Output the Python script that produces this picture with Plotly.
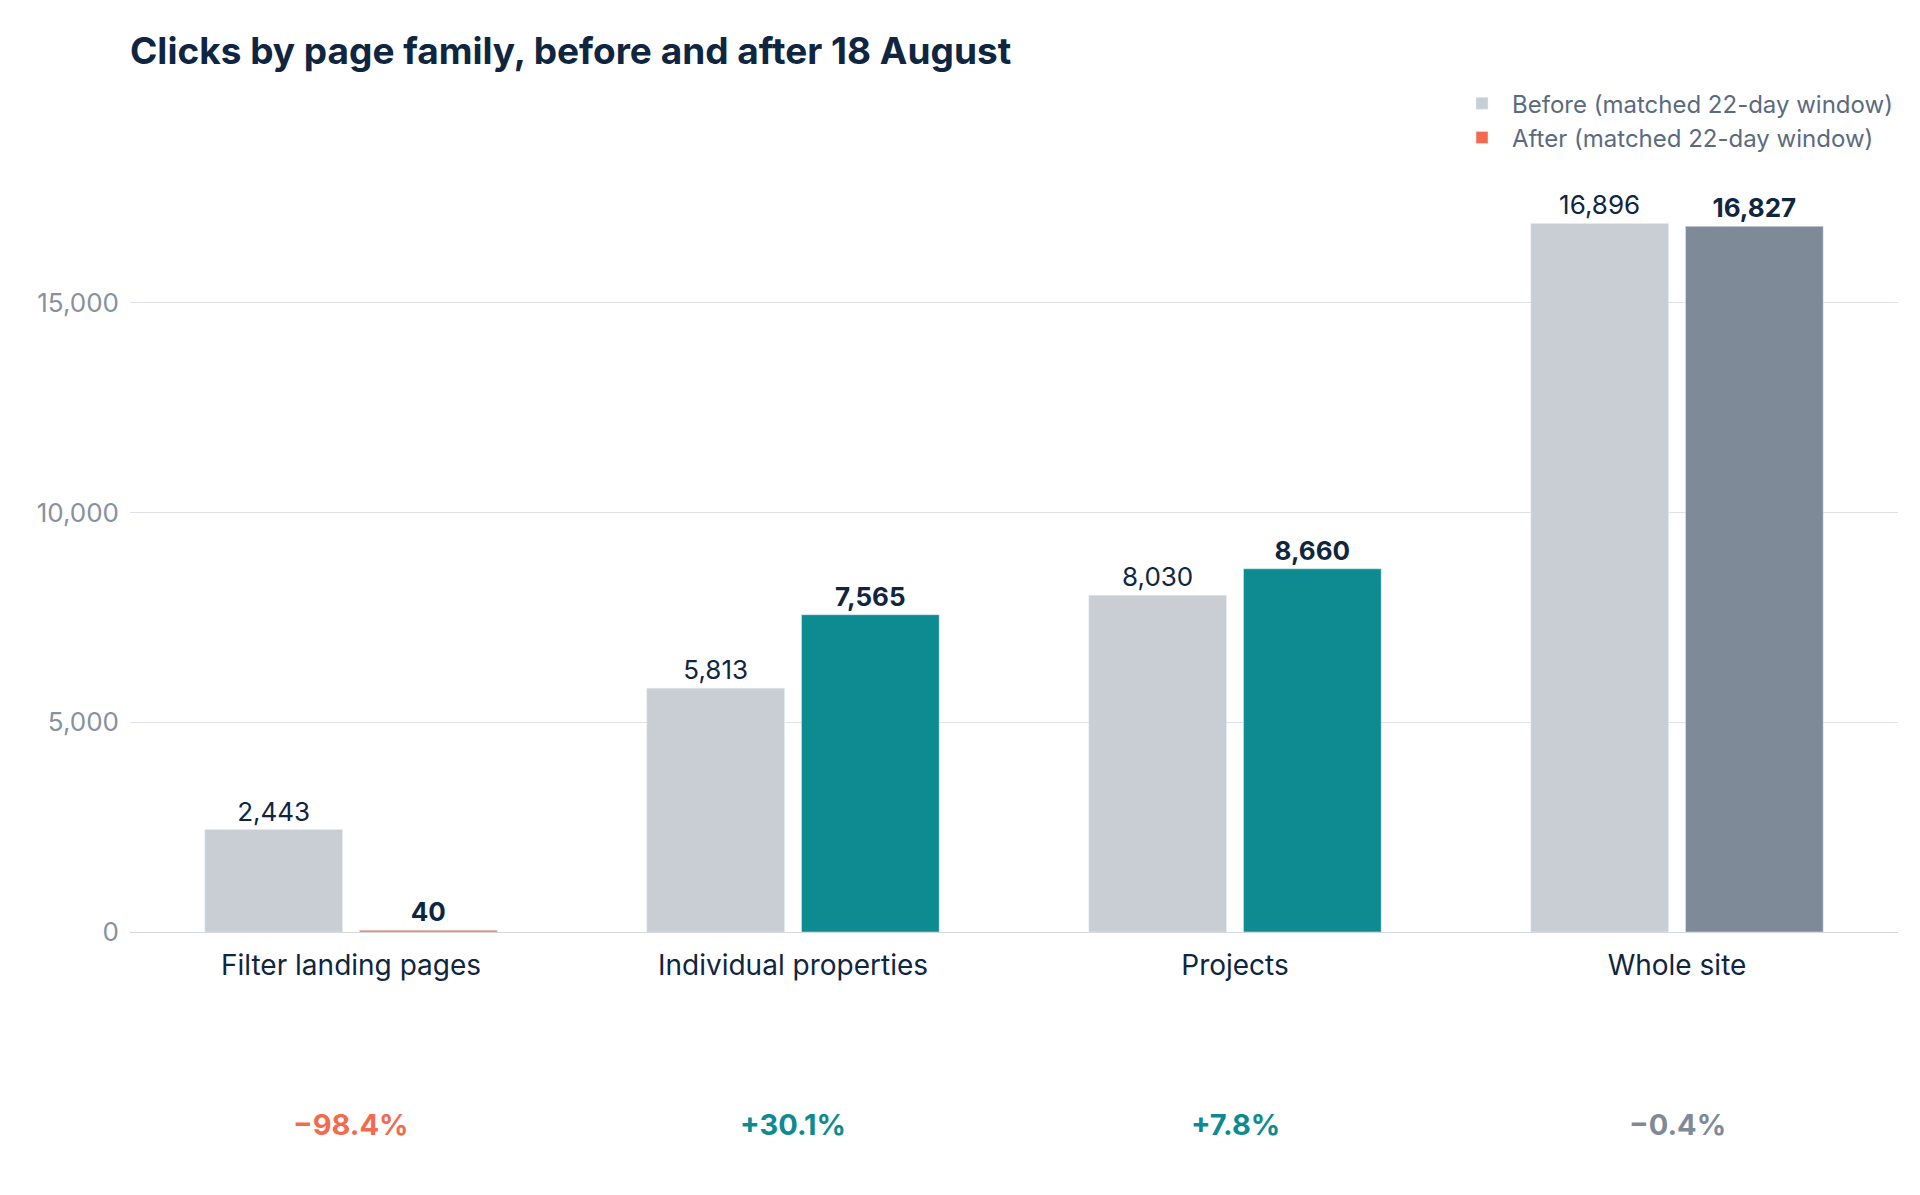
import plotly.graph_objects as go

categories = ['Filter landing pages', 'Individual properties', 'Projects', 'Whole site']
before = [2443, 5813, 8030, 16896]
after = [40, 7565, 8660, 16827]
changes = ['\u221298.4%', '+30.1%', '+7.8%', '\u22120.4%']

GREY_LIGHT = '#c9ced5'
ORANGE = '#f26b4f'
TEAL = '#0e8a91'
SLATE = '#7f8a99'
INK = '#0f2540'
after_colors = [ORANGE, TEAL, TEAL, SLATE]
change_colors = [ORANGE, TEAL, TEAL, SLATE]

fig = go.Figure()
fig.add_trace(go.Bar(
    x=categories, y=before, name='Before (matched 22-day window)',
    marker_color=GREY_LIGHT, text=[f'{v:,}' for v in before],
    textposition='outside', cliponaxis=False,
    textfont=dict(size=26, color=INK)))
fig.add_trace(go.Bar(
    x=categories, y=after, name='After (matched 22-day window)',
    marker_color=after_colors, text=[f'<b>{v:,}</b>' for v in after],
    textposition='outside', cliponaxis=False,
    textfont=dict(size=26, color=INK)))

for cat, txt, col in zip(categories, changes, change_colors):
    fig.add_annotation(x=cat, y=-0.258, xref='x', yref='paper', text=f'<b>{txt}</b>',
                       showarrow=False, font=dict(size=29, color=col))

fig.update_layout(
    width=1920, height=1195,
    font=dict(family='Inter, Noto Sans, sans-serif', color=INK),
    title=dict(text='<b>Clicks by page family, before and after 18 August</b>',
               x=0, xref='paper', y=0.975, yanchor='top', font=dict(size=37, color=INK)),
    plot_bgcolor='white', paper_bgcolor='white',
    barmode='group', bargap=0.30, bargroupgap=0.11,
    margin=dict(l=122, r=30, t=102, b=271),
    legend=dict(x=1, xanchor='right', y=1.035, yanchor='top', bgcolor='rgba(0,0,0,0)',
                font=dict(size=24, color='#5a6b80'), tracegroupgap=4, itemwidth=50),
    xaxis=dict(tickfont=dict(size=28, color=INK), showline=True, linecolor='#d5d9df',
               ticks='', ticklabelstandoff=8),
    yaxis=dict(range=[0, 19600], tickvals=[0, 5000, 10000, 15000], tickformat=',',
               gridcolor='#dfe2e6', zeroline=False, tickfont=dict(size=26, color='#8791a0'),
               ticklabelstandoff=10),
)

fig.write_html('out.html')
